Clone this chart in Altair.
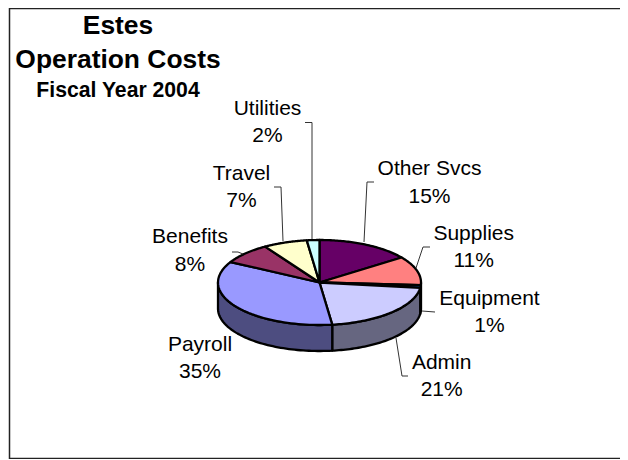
import numpy as np
import pandas as pd
import altair as alt

# ---- data
categories = ["Other Svcs", "Supplies", "Equipment", "Admin", "Payroll", "Benefits", "Travel", "Utilities"]
shares = [15, 11, 1, 21, 35, 8, 7, 2]
title_lines = ["Estes", "Operation Costs", "Fiscal Year 2004"]

# ---- styles and layout, kept apart from the values
top_colors = ["#660066", "#FF8080", "#0066CC", "#CCCCFF", "#9999FF", "#993366", "#FFFFCC", "#CCFFFF"]
side_colors = ["#330033", "#804040", "#003366", "#666680", "#4D4D80", "#4D1A33", "#808066", "#668080"]
CX, CY, RX, RY, DEPTH = 319.5, 282.5, 101.5, 42.5, 26
label_pos = {
    "Other Svcs": (429.5, 175, 203), "Supplies": (473.7, 240, 267), "Equipment": (489.5, 305, 332),
    "Admin": (441.7, 369, 396), "Payroll": (200, 351, 378), "Benefits": (190, 243, 271),
    "Travel": (241.5, 180, 207), "Utilities": (267.5, 115, 142),
}
title_pos = [(118, 34, 26.4), (118, 68, 26.4), (118, 97, 21.2)]
leaders = [
    [(374, 182), (367, 182), (364, 242)],
    [(430, 247), (423, 247), (416, 268)],
    [(435, 312), (422, 311)],
    [(408, 376), (402, 376), (396, 338)],
    [(232, 252), (238, 252), (243, 254)],
    [(274, 187), (281, 187), (283, 241)],
    [(305, 122.5), (312, 122.5), (312, 239)],
]
frame = [(620, 8.5), (9.5, 8.5), (9.5, 458.5), (620, 458.5)]

X = alt.X("x:Q", scale=alt.Scale(domain=[8, 620], nice=False, zero=False), axis=None)
Y = alt.Y("y:Q", scale=alt.Scale(domain=[459, 8], nice=False, zero=False), axis=None)
FONT = "Liberation Sans"


def ellipse(deg, dy=0.0):
    t = np.radians(deg)
    return CX + RX * np.sin(t), CY - RY * np.cos(t) + dy


def poly(xs, ys, **mark):
    df = pd.DataFrame({"x": xs, "y": ys, "i": range(len(xs))})
    return alt.Chart(df).mark_line(**mark).encode(x=X, y=Y, order="i:Q")


edges = np.cumsum([0] + shares) / sum(shares) * 360
layers = [poly(*zip(*frame), stroke="#222222", strokeWidth=1.5)]

# side walls: only the near half of the rim shows
for k in range(len(shares)):
    a0, a1 = max(edges[k], 90), min(edges[k + 1], 270)
    if a1 <= a0:
        continue
    t = np.linspace(a0, a1, 60)
    tx, ty = ellipse(t)
    bx, by = ellipse(t[::-1], DEPTH)
    xs = np.concatenate([tx, bx, tx[:1]])
    ys = np.concatenate([ty, by, ty[:1]])
    layers.append(poly(xs, ys, fill=side_colors[k], stroke="black", strokeWidth=2.3, strokeJoin="round"))

# top face
for k in range(len(shares)):
    t = np.linspace(edges[k], edges[k + 1], 60)
    ax, ay = ellipse(t)
    xs = np.concatenate([[CX], ax, [CX]])
    ys = np.concatenate([[CY], ay, [CY]])
    layers.append(poly(xs, ys, fill=top_colors[k], stroke="black", strokeWidth=2.3, strokeJoin="round"))

# leader lines
for pts in leaders:
    layers.append(poly(*zip(*pts), stroke="#333333", strokeWidth=1))

# labels
rows = []
for c, s in zip(categories, shares):
    x, y1, y2 = label_pos[c]
    rows += [{"x": x, "y": y1, "t": c}, {"x": x, "y": y2, "t": f"{s}%"}]
layers.append(
    alt.Chart(pd.DataFrame(rows))
    .mark_text(font=FONT, fontSize=21, align="center", baseline="alphabetic", color="black")
    .encode(x=X, y=Y, text="t:N")
)
for line, (x, y, size) in zip(title_lines, title_pos):
    layers.append(
        alt.Chart(pd.DataFrame({"x": [x], "y": [y], "t": [line]}))
        .mark_text(font=FONT, fontSize=size, fontWeight="bold", align="center", baseline="alphabetic", color="black")
        .encode(x=X, y=Y, text="t:N")
    )

chart = (
    alt.layer(*layers)
    .properties(width=612, height=451, padding=0, background="white",
                autosize=alt.AutoSizeParams(type="none"))
    .configure_view(stroke=None)
)
chart.save("out.html", embed_options={"renderer": "svg", "actions": False})
